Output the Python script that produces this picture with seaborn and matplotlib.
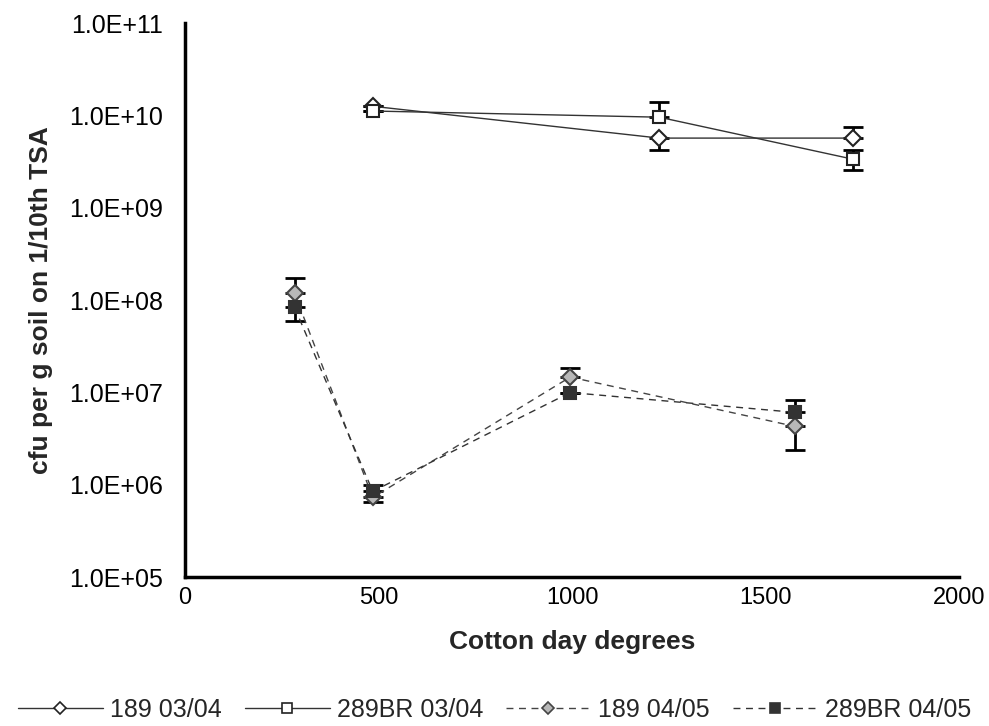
import matplotlib
matplotlib.use('Agg')
import matplotlib.pyplot as plt
from matplotlib.lines import Line2D
from matplotlib.ticker import FixedLocator, FuncFormatter, NullLocator
import numpy as np
import pandas as pd
import seaborn as sns

# dados
x_0304 = [485, 1225, 1725]
y_189_0304 = [1.26e10, 5.7e9, 5.7e9]
lo_189_0304 = [1.26e10, 4.2e9, 5.7e9]
hi_189_0304 = [1.26e10, 5.7e9, 7.5e9]
y_289_0304 = [1.12e10, 9.6e9, 3.37e9]
lo_289_0304 = [1.12e10, 9.6e9, 2.57e9]
hi_289_0304 = [1.12e10, 1.4e10, 4.2e9]

x_0405 = [283, 485, 995, 1575]
y_189_0405 = [1.19e8, 7.3e5, 1.47e7, 4.3e6]
lo_189_0405 = [1.19e8, 6.5e5, 1.47e7, 2.4e6]
hi_189_0405 = [1.73e8, 7.3e5, 1.85e7, 4.3e6]
y_289_0405 = [8.4e7, 8.5e5, 1.0e7, 6.1e6]
lo_289_0405 = [5.9e7, 8.5e5, 1.0e7, 6.1e6]
hi_289_0405 = [8.4e7, 1.0e6, 1.0e7, 8.2e6]

labels = ['189 03/04', '289BR 03/04', '189 04/05', '289BR 04/05']
y_ticks = [1e5, 1e6, 1e7, 1e8, 1e9, 1e10, 1e11]
x_ticks = [0, 500, 1000, 1500, 2000]

sns.set_style('white')
plt.rcParams['font.family'] = ['Liberation Sans', 'DejaVu Sans']

fig = plt.figure(figsize=(9.89, 7.26), dpi=100)
ax = fig.add_axes([0.187, 0.205, 0.783, 0.763])

series = [
    (x_0304, y_189_0304, lo_189_0304, hi_189_0304, dict(color='#333333', ls='-', marker='D', mfc='white', mec='#222222', ms=8)),
    (x_0304, y_289_0304, lo_289_0304, hi_289_0304, dict(color='#333333', ls='-', marker='s', mfc='white', mec='#222222', ms=9)),
    (x_0405, y_189_0405, lo_189_0405, hi_189_0405, dict(color='#444444', ls=(0, (5, 4)), marker='D', mfc='#b8b8b8', mec='#444444', ms=8)),
    (x_0405, y_289_0405, lo_289_0405, hi_289_0405, dict(color='#333333', ls=(0, (5, 4)), marker='s', mfc='#333333', mec='#333333', ms=9)),
]

handles = []
for (xs, ys, lo, hi, st), lab in zip(series, labels):
    ys = np.array(ys)
    yerr = [ys - np.array(lo), np.array(hi) - ys]
    ax.errorbar(xs, ys, yerr=yerr, fmt='none', ecolor='black', elinewidth=2, capsize=7, capthick=2, zorder=2)
    df = pd.DataFrame({'x': xs, 'y': ys})
    sns.lineplot(data=df, x='x', y='y', ax=ax, color=st['color'], linestyle=st['ls'], linewidth=1,
                 marker=st['marker'], markerfacecolor=st['mfc'], markeredgecolor=st['mec'],
                 markeredgewidth=1.5, markersize=st['ms'], zorder=3, legend=False)
    handles.append(Line2D([], [], color=st['color'], linestyle=st['ls'], linewidth=1, marker=st['marker'],
                          markerfacecolor=st['mfc'], markeredgecolor=st['mec'], markeredgewidth=1.2,
                          markersize=st['ms'] - 2, label=lab))

ax.set_yscale('log')
ax.set_ylim(1e5, 1e11)
ax.set_xlim(0, 2000)
ax.yaxis.set_major_locator(FixedLocator(y_ticks))
ax.yaxis.set_minor_locator(NullLocator())
ax.yaxis.set_major_formatter(FuncFormatter(lambda v, p: '1.0E+%02d' % round(np.log10(v))))
ax.set_xticks(x_ticks)

for s in ['top', 'right']:
    ax.spines[s].set_visible(False)
for s in ['left', 'bottom']:
    ax.spines[s].set_linewidth(2.5)
    ax.spines[s].set_color('black')
ax.tick_params(axis='both', direction='out', length=6, width=2.5, labelsize=18, colors='black')
ax.tick_params(axis='y', pad=10)
ax.tick_params(axis='x', labelsize=17, pad=1)

ax.set_xlabel('Cotton day degrees', fontsize=19, fontweight='bold', labelpad=15)
ax.set_ylabel('cfu per g soil on 1/10th TSA', fontsize=19, fontweight='bold')
ax.yaxis.set_label_coords(-0.171, 0.5)

fig.legend(handles=handles, loc='lower center', bbox_to_anchor=(0.5, -0.025), ncol=4, frameon=False,
           fontsize=18, handlelength=3.4, handletextpad=0.3, columnspacing=0.9, numpoints=1)

fig.savefig('out.png', dpi=100, facecolor='white')
